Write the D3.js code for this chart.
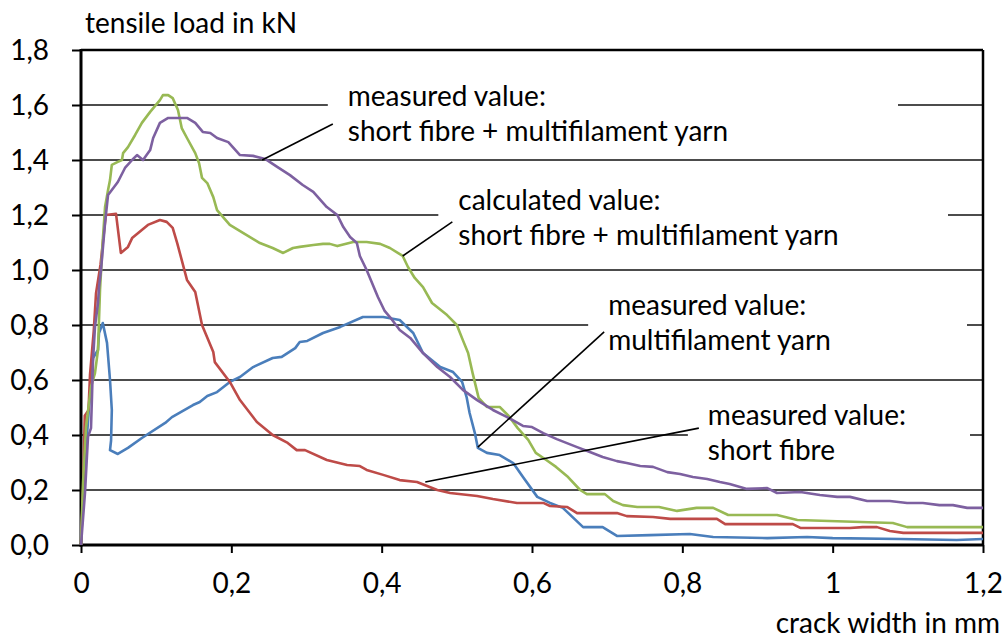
<!DOCTYPE html>
<html>
<head>
<meta charset="utf-8">
<script src="https://cdn.jsdelivr.net/npm/d3@7"></script>
<style>
  html, body { margin: 0; padding: 0; background: #fff; }
  svg { display: block; }
  text { font-family: Lato, "Open Sans", "Noto Sans", sans-serif; fill: #000; }
</style>
</head>
<body>
<svg id="chart" width="1008" height="638"></svg>
<script>
// crack width (mm) vs. tensile load (kN), one array per curve
const shortFibre = [
  [0,0],[0.003,0.22],[0.005,0.47],[0.010,0.49],[0.012,0.62],[0.017,0.78],[0.020,0.916],
  [0.026,1.02],[0.029,1.098],[0.033,1.2],[0.0466,1.204],[0.053,1.062],[0.0625,1.084],
  [0.068,1.116],[0.089,1.164],[0.105,1.182],[0.114,1.175],[0.122,1.153],[0.128,1.098],
  [0.141,0.964],[0.152,0.92],[0.161,0.80],[0.176,0.702],[0.178,0.665],[0.198,0.593],
  [0.2115,0.527],[0.234,0.447],[0.255,0.40],[0.275,0.371],[0.287,0.345],[0.298,0.345],
  [0.327,0.309],[0.354,0.291],[0.371,0.287],[0.380,0.273],[0.402,0.255],[0.424,0.236],
  [0.447,0.229],[0.474,0.20],[0.491,0.189],[0.527,0.178],[0.548,0.167],[0.580,0.153],
  [0.615,0.153],[0.624,0.142],[0.647,0.138],[0.660,0.116],[0.713,0.116],[0.726,0.105],
  [0.761,0.102],[0.784,0.095],[0.846,0.095],[0.857,0.076],[0.947,0.076],[0.957,0.062],
  [1.023,0.062],[1.040,0.065],[1.059,0.065],[1.076,0.051],[1.094,0.044],[1.2,0.044]
];

const multifilament = [
  [0,0],[0.003,0.2],[0.008,0.4],[0.012,0.55],[0.016,0.68],[0.0226,0.709],[0.024,0.771],
  [0.029,0.807],[0.0346,0.735],[0.0386,0.60],[0.041,0.491],[0.040,0.38],[0.0386,0.345],
  [0.049,0.331],[0.0625,0.353],[0.081,0.389],[0.112,0.444],[0.121,0.465],[0.149,0.509],
  [0.158,0.52],[0.168,0.542],[0.181,0.556],[0.198,0.593],[0.2115,0.611],[0.229,0.647],
  [0.255,0.68],[0.267,0.684],[0.285,0.716],[0.291,0.738],[0.301,0.742],[0.322,0.771],
  [0.345,0.793],[0.375,0.829],[0.402,0.829],[0.424,0.818],[0.442,0.771],[0.455,0.698],
  [0.478,0.647],[0.495,0.629],[0.507,0.593],[0.513,0.538],[0.517,0.48],[0.524,0.407],
  [0.528,0.353],[0.540,0.335],[0.557,0.327],[0.575,0.298],[0.588,0.247],[0.607,0.175],
  [0.624,0.153],[0.641,0.135],[0.668,0.065],[0.694,0.065],[0.713,0.033],[0.757,0.036],
  [0.810,0.04],[0.841,0.029],[0.913,0.025],[0.966,0.029],[1.0,0.025],[1.09,0.022],
  [1.165,0.018],[1.2,0.022]
];

const calculated = [
  [0,0],[0.0027,0.225],[0.0067,0.429],[0.0133,0.575],[0.0186,0.625],[0.0226,0.709],
  [0.0253,0.927],[0.029,1.109],[0.032,1.229],[0.036,1.291],[0.0386,1.327],[0.041,1.382],
  [0.049,1.393],[0.0545,1.40],[0.056,1.425],[0.0625,1.447],[0.072,1.491],[0.081,1.535],
  [0.092,1.575],[0.105,1.618],[0.109,1.636],[0.116,1.636],[0.122,1.625],[0.129,1.582],
  [0.134,1.516],[0.141,1.48],[0.152,1.425],[0.157,1.389],[0.161,1.335],[0.168,1.316],
  [0.176,1.265],[0.181,1.218],[0.198,1.164],[0.2155,1.135],[0.238,1.098],[0.255,1.08],
  [0.269,1.062],[0.282,1.08],[0.291,1.084],[0.309,1.091],[0.322,1.095],[0.331,1.095],
  [0.341,1.087],[0.362,1.102],[0.380,1.102],[0.398,1.095],[0.411,1.08],[0.428,1.051],
  [0.435,1.011],[0.444,0.971],[0.455,0.938],[0.467,0.88],[0.487,0.836],[0.50,0.80],
  [0.508,0.745],[0.515,0.698],[0.521,0.625],[0.529,0.535],[0.540,0.502],[0.557,0.502],
  [0.569,0.469],[0.581,0.425],[0.595,0.382],[0.605,0.335],[0.619,0.309],[0.632,0.284],
  [0.648,0.247],[0.664,0.20],[0.673,0.185],[0.697,0.185],[0.708,0.16],[0.721,0.145],
  [0.74,0.138],[0.769,0.138],[0.793,0.124],[0.819,0.135],[0.841,0.135],[0.861,0.109],
  [0.926,0.109],[0.953,0.091],[1.08,0.08],[1.099,0.065],[1.2,0.065]
];

const combined = [
  [0,0],[0.0053,0.189],[0.0093,0.393],[0.0133,0.425],[0.0146,0.538],[0.016,0.673],
  [0.0186,0.793],[0.0226,0.88],[0.024,0.938],[0.0266,1.0],[0.032,1.171],[0.036,1.273],
  [0.041,1.291],[0.049,1.32],[0.0585,1.371],[0.068,1.40],[0.0745,1.418],[0.0825,1.40],
  [0.092,1.436],[0.096,1.48],[0.105,1.535],[0.116,1.553],[0.141,1.553],[0.152,1.535],
  [0.162,1.502],[0.172,1.498],[0.181,1.48],[0.196,1.465],[0.2115,1.418],[0.229,1.415],
  [0.245,1.404],[0.261,1.375],[0.278,1.345],[0.295,1.309],[0.309,1.284],[0.327,1.229],
  [0.341,1.20],[0.349,1.156],[0.358,1.12],[0.367,1.098],[0.371,1.051],[0.380,1.0],
  [0.395,0.902],[0.404,0.851],[0.411,0.829],[0.424,0.782],[0.438,0.753],[0.455,0.698],
  [0.474,0.647],[0.491,0.611],[0.508,0.564],[0.527,0.527],[0.548,0.491],[0.567,0.465],
  [0.588,0.433],[0.60,0.429],[0.615,0.407],[0.633,0.385],[0.66,0.356],[0.677,0.338],
  [0.694,0.32],[0.713,0.305],[0.726,0.298],[0.744,0.287],[0.761,0.284],[0.78,0.265],
  [0.797,0.258],[0.814,0.247],[0.833,0.24],[0.85,0.229],[0.863,0.222],[0.886,0.204],
  [0.913,0.207],[0.926,0.189],[0.957,0.193],[0.983,0.182],[1.006,0.175],[1.023,0.175],
  [1.046,0.16],[1.076,0.16],[1.099,0.153],[1.12,0.153],[1.142,0.145],[1.16,0.145],
  [1.179,0.135],[1.2,0.135]
];

const xTicks = [0, 0.2, 0.4, 0.6, 0.8, 1, 1.2];
const yTicks = [0, 0.2, 0.4, 0.6, 0.8, 1.0, 1.2, 1.4, 1.6, 1.8];
const xTitle = "crack width in mm";
const yTitle = "tensile load in kN";

// annotations: tip = point on the curve, from = where the leader meets the label
const annotations = [
  { lines: ["measured value:", "short fibre + multifilament yarn"], tip: [0.241, 1.40], from: [0.335, 1.531] },
  { lines: ["calculated value:", "short fibre + multifilament yarn"], tip: [0.428, 1.051], from: [0.494, 1.175] },
  { lines: ["measured value:", "multifilament yarn"], tip: [0.528, 0.356], from: [0.696, 0.775] },
  { lines: ["measured value:", "short fibre"], tip: [0.458, 0.229], from: [0.822, 0.425] }
];
// label placement relative to the leader end (px) and right edge of each label box
const labelLayout = [
  { dx: 15, dy: -18, boxRight: 898 },
  { dx: 6,  dy: -12, boxRight: 948 },
  { dx: 4,  dy: -17, boxRight: 967 },
  { dx: 9,  dy: -3,  boxRight: 970 }
];

const series = [
  { data: multifilament, color: "#4a7ebb" },
  { data: shortFibre,    color: "#be4b48" },
  { data: calculated,    color: "#98b954" },
  { data: combined,      color: "#7d60a0" }
];

const svg = d3.select("#chart");
const margin = { left: 81, right: 25, top: 50, bottom: 93 };
const W = 1008, H = 638;

const x = d3.scaleLinear().domain([0, 1.2]).range([margin.left, W - margin.right]);
const y = d3.scaleLinear().domain([0, 1.8]).range([H - margin.bottom, margin.top]);

const comma = v => String(v).replace(".", ",");
const fontSize = 28;
const lineGap = 35;

// horizontal gridlines
svg.append("g").selectAll("line").data(yTicks.filter(v => v > 0 && v < 1.8)).join("line")
  .attr("x1", x(0)).attr("x2", x(1.2))
  .attr("y1", d => y(d)).attr("y2", d => y(d))
  .attr("stroke", "#111").attr("stroke-width", 1.4);

// white label boxes interrupt the gridlines
annotations.forEach((a, i) => {
  const L = labelLayout[i];
  const tx = x(a.from[0]) + L.dx, ty = y(a.from[1]) + L.dy;
  svg.append("rect")
    .attr("x", tx - 20).attr("y", ty - 30)
    .attr("width", L.boxRight - (tx - 20)).attr("height", lineGap + 44)
    .attr("fill", "#fff");
});

// axes
const yAxis = d3.axisLeft(y).tickValues(yTicks).tickFormat(d => d3.format(".1f")(d).replace(".", ","))
  .tickSize(9).tickPadding(23);
const xAxis = d3.axisBottom(x).tickValues(xTicks).tickFormat(d => comma(d)).tickSize(8).tickPadding(20);

const gy = svg.append("g").attr("transform", `translate(${x(0)},0)`).call(yAxis);
const gx = svg.append("g").attr("transform", `translate(0,${y(0)})`).call(xAxis);
[gx, gy].forEach(g => {
  g.select(".domain").remove();
  g.selectAll(".tick line").attr("stroke", "#000").attr("stroke-width", 2);
  g.selectAll(".tick text").attr("font-size", fontSize).style("font-family", "Lato, 'Open Sans', sans-serif");
});
gy.selectAll(".tick text").attr("dy", "0.35em");
gx.selectAll(".tick text").attr("dy", "0.71em");

// plot frame: heavy left/bottom axis, lighter top/right
svg.append("line").attr("x1", x(0)).attr("x2", x(1.2)).attr("y1", y(1.8)).attr("y2", y(1.8))
  .attr("stroke", "#000").attr("stroke-width", 2.5);
svg.append("line").attr("x1", x(1.2)).attr("x2", x(1.2)).attr("y1", y(1.8)).attr("y2", y(0))
  .attr("stroke", "#000").attr("stroke-width", 2.5);
svg.append("line").attr("x1", x(0)).attr("x2", x(0)).attr("y1", y(1.8) - 1).attr("y2", y(0) + 1.5)
  .attr("stroke", "#000").attr("stroke-width", 3);
svg.append("line").attr("x1", x(0) - 1.5).attr("x2", x(1.2) + 1).attr("y1", y(0)).attr("y2", y(0))
  .attr("stroke", "#000").attr("stroke-width", 3);

// curves
const line = d3.line().x(d => x(d[0])).y(d => y(d[1]));
svg.append("g").selectAll("path").data(series).join("path")
  .attr("d", d => line(d.data))
  .attr("fill", "none")
  .attr("stroke", d => d.color)
  .attr("stroke-width", 2.6)
  .attr("stroke-linejoin", "round");

// leader lines and label text
annotations.forEach((a, i) => {
  const L = labelLayout[i];
  const fx = x(a.from[0]), fy = y(a.from[1]);
  svg.append("line")
    .attr("x1", x(a.tip[0])).attr("y1", y(a.tip[1]))
    .attr("x2", fx).attr("y2", fy)
    .attr("stroke", "#000").attr("stroke-width", 1.6);
  const t = svg.append("text").attr("font-size", fontSize);
  a.lines.forEach((s, k) => {
    t.append("tspan").attr("x", fx + L.dx).attr("y", fy + L.dy + k * lineGap).text(s);
  });
});

// axis titles
svg.append("text").attr("x", 85).attr("y", 33).attr("font-size", fontSize).text(yTitle);
svg.append("text").attr("x", 1000).attr("y", 633).attr("text-anchor", "end")
  .attr("font-size", fontSize).text(xTitle);
</script>
</body>
</html>
